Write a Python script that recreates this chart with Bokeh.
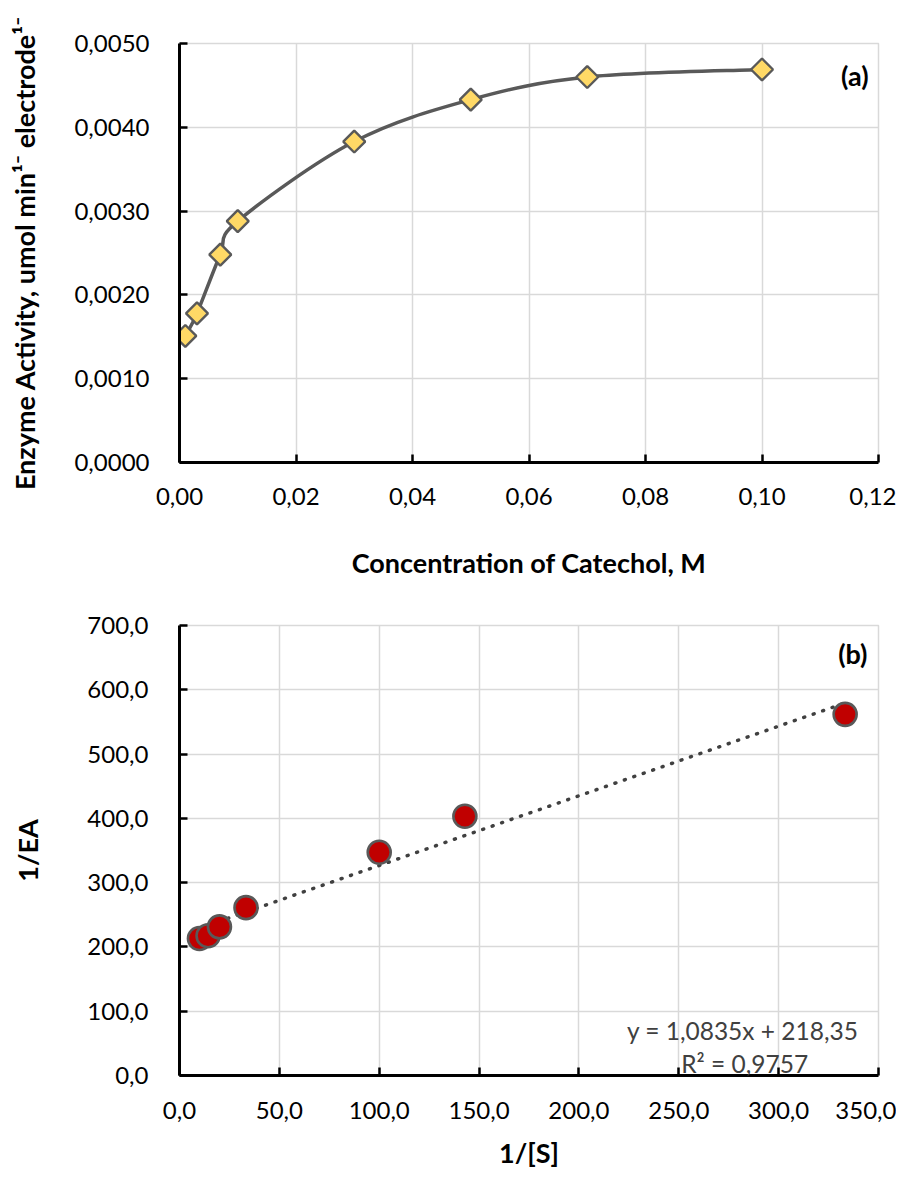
import numpy as np
from bokeh.plotting import figure
from bokeh.layouts import column
from bokeh.models import FixedTicker, CustomJSTickFormatter, Label, Range1d
from bokeh.embed import file_html
from bokeh.resources import INLINE

# ---------------- data ----------------
conc = [0.001, 0.003, 0.007, 0.010, 0.030, 0.050, 0.070, 0.100]
activity = [0.00151, 0.00178, 0.00248, 0.00288, 0.00383, 0.00433, 0.00460, 0.00469]

inv_s = [10.0, 14.3, 20.0, 33.3, 100.0, 142.9, 333.3]
inv_ea = [213.2, 217.4, 231.2, 261.1, 347.2, 403.2, 561.8]

trend_slope = 1.0835
trend_intercept = 218.35
eq_text = "y = 1,0835x + 218,35"
r2_text = "R² = 0,9757"

x1_ticks = [0.0, 0.02, 0.04, 0.06, 0.08, 0.10, 0.12]
y1_ticks = [0.0, 0.001, 0.002, 0.003, 0.004, 0.005]
x2_ticks = [0, 50, 100, 150, 200, 250, 300, 350]
y2_ticks = [0, 100, 200, 300, 400, 500, 600, 700]

FONT = "Lato"
GRID = "#d9d9d9"
LINE = "#595959"


def style(p, tick_sx, tick_sy, label_sx, label_sy):
    for ax in (p.xaxis[0], p.yaxis[0]):
        ax.axis_line_width = 3
        ax.axis_line_color = "black"
        ax.major_tick_in = 8
        ax.major_tick_out = 0
        ax.major_tick_line_width = 2.5
        ax.major_tick_line_color = "black"
        ax.minor_tick_line_color = None
        ax.major_label_text_font = FONT
        ax.major_label_text_font_size = "24px"
        ax.major_label_text_color = "black"
        ax.axis_label_text_font = FONT
        ax.axis_label_text_font_size = "27px"
        ax.axis_label_text_font_style = "bold"
        ax.axis_label_text_color = "black"
    p.xaxis[0].major_label_standoff = tick_sx
    p.yaxis[0].major_label_standoff = tick_sy
    p.xaxis[0].axis_label_standoff = label_sx
    p.yaxis[0].axis_label_standoff = label_sy
    p.xgrid.grid_line_color = GRID
    p.ygrid.grid_line_color = GRID
    p.xgrid.grid_line_width = 1.5
    p.ygrid.grid_line_width = 1.5
    p.outline_line_color = GRID
    p.outline_line_width = 1.5
    p.background_fill_color = "white"
    p.border_fill_color = "white"


# ---------------- chart (a) ----------------
p1 = figure(width=896, height=600, output_backend="svg", toolbar_location=None,
            x_range=Range1d(0, 0.12), y_range=Range1d(0, 0.005),
            min_border_left=177, min_border_right=12, min_border_top=43, min_border_bottom=138)
p1.xaxis.ticker = FixedTicker(ticks=x1_ticks)
p1.yaxis.ticker = FixedTicker(ticks=y1_ticks)
p1.xaxis.formatter = CustomJSTickFormatter(code="return tick.toFixed(2).replace('.', ',');")
p1.yaxis.formatter = CustomJSTickFormatter(code="return tick.toFixed(4).replace('.', ',');")
p1.xaxis.axis_label = "Concentration of Catechol, M"
p1.yaxis.axis_label = "Enzyme Activity, umol min¹⁻ electrode¹⁻"
style(p1, 25, 30, 38, 30)

# smoothed line (Catmull-Rom style Bezier, computed in screen proportion)
sx = 707 / 0.12
sy = 419 / 0.005
P = np.column_stack([np.array(conc) * sx, np.array(activity) * sy])
n = len(P)
Pe = np.vstack([P[0], P, P[-1]])
t = 1.0 / 6.0
c0 = P[:-1] + (Pe[2:n + 1] - Pe[0:n - 1]) * t
c1 = P[1:] - (Pe[3:n + 2] - Pe[1:n]) * t
p1.bezier(x0=P[:-1, 0] / sx, y0=P[:-1, 1] / sy, x1=P[1:, 0] / sx, y1=P[1:, 1] / sy,
          cx0=c0[:, 0] / sx, cy0=c0[:, 1] / sy, cx1=c1[:, 0] / sx, cy1=c1[:, 1] / sy,
          line_color=LINE, line_width=3.5)
p1.scatter(conc, activity, marker="square", angle=np.pi / 4, size=15.5,
           fill_color="#FFD966", line_color=LINE, line_width=2.4)
p1.add_layout(Label(x=0.1183, y=0.00462, text="(a)", text_align="right", text_baseline="middle",
                    text_font=FONT, text_font_size="27px", text_font_style="bold", text_color="black"))

# ---------------- chart (b) ----------------
p2 = figure(width=896, height=575, output_backend="svg", toolbar_location=None,
            x_range=Range1d(0, 350), y_range=Range1d(0, 700),
            min_border_left=179, min_border_right=18, min_border_top=25, min_border_bottom=100)
p2.xaxis.ticker = FixedTicker(ticks=x2_ticks)
p2.yaxis.ticker = FixedTicker(ticks=y2_ticks)
p2.xaxis.formatter = CustomJSTickFormatter(code="return tick.toFixed(1).replace('.', ',');")
p2.yaxis.formatter = CustomJSTickFormatter(code="return tick.toFixed(1).replace('.', ',');")
p2.xaxis.axis_label = "1/[S]"
p2.yaxis.axis_label = "1/EA"
style(p2, 26, 31, 14, 40)

tx = np.array([min(inv_s), max(inv_s)])
p2.line(tx, trend_slope * tx + trend_intercept, line_color="#404040", line_width=3.5,
        line_dash="1 9", line_cap="round")
p2.scatter(inv_s, inv_ea, marker="circle", size=23, fill_color="#C00000",
           line_color=LINE, line_width=2.6)
p2.add_layout(Label(x=344.5, y=656, text="(b)", text_align="right", text_baseline="middle",
                    text_font=FONT, text_font_size="27px", text_font_style="bold", text_color="black"))
p2.add_layout(Label(x=282, y=70, text=eq_text, text_align="center", text_baseline="middle",
                    text_font=FONT, text_font_size="24.5px", text_color="#404040"))
p2.add_layout(Label(x=283, y=19, text=r2_text, text_align="center", text_baseline="middle",
                    text_font=FONT, text_font_size="24.5px", text_color="#404040"))

layout = column(p1, p2, spacing=0)
open("out.html", "w").write(file_html(layout, INLINE))
